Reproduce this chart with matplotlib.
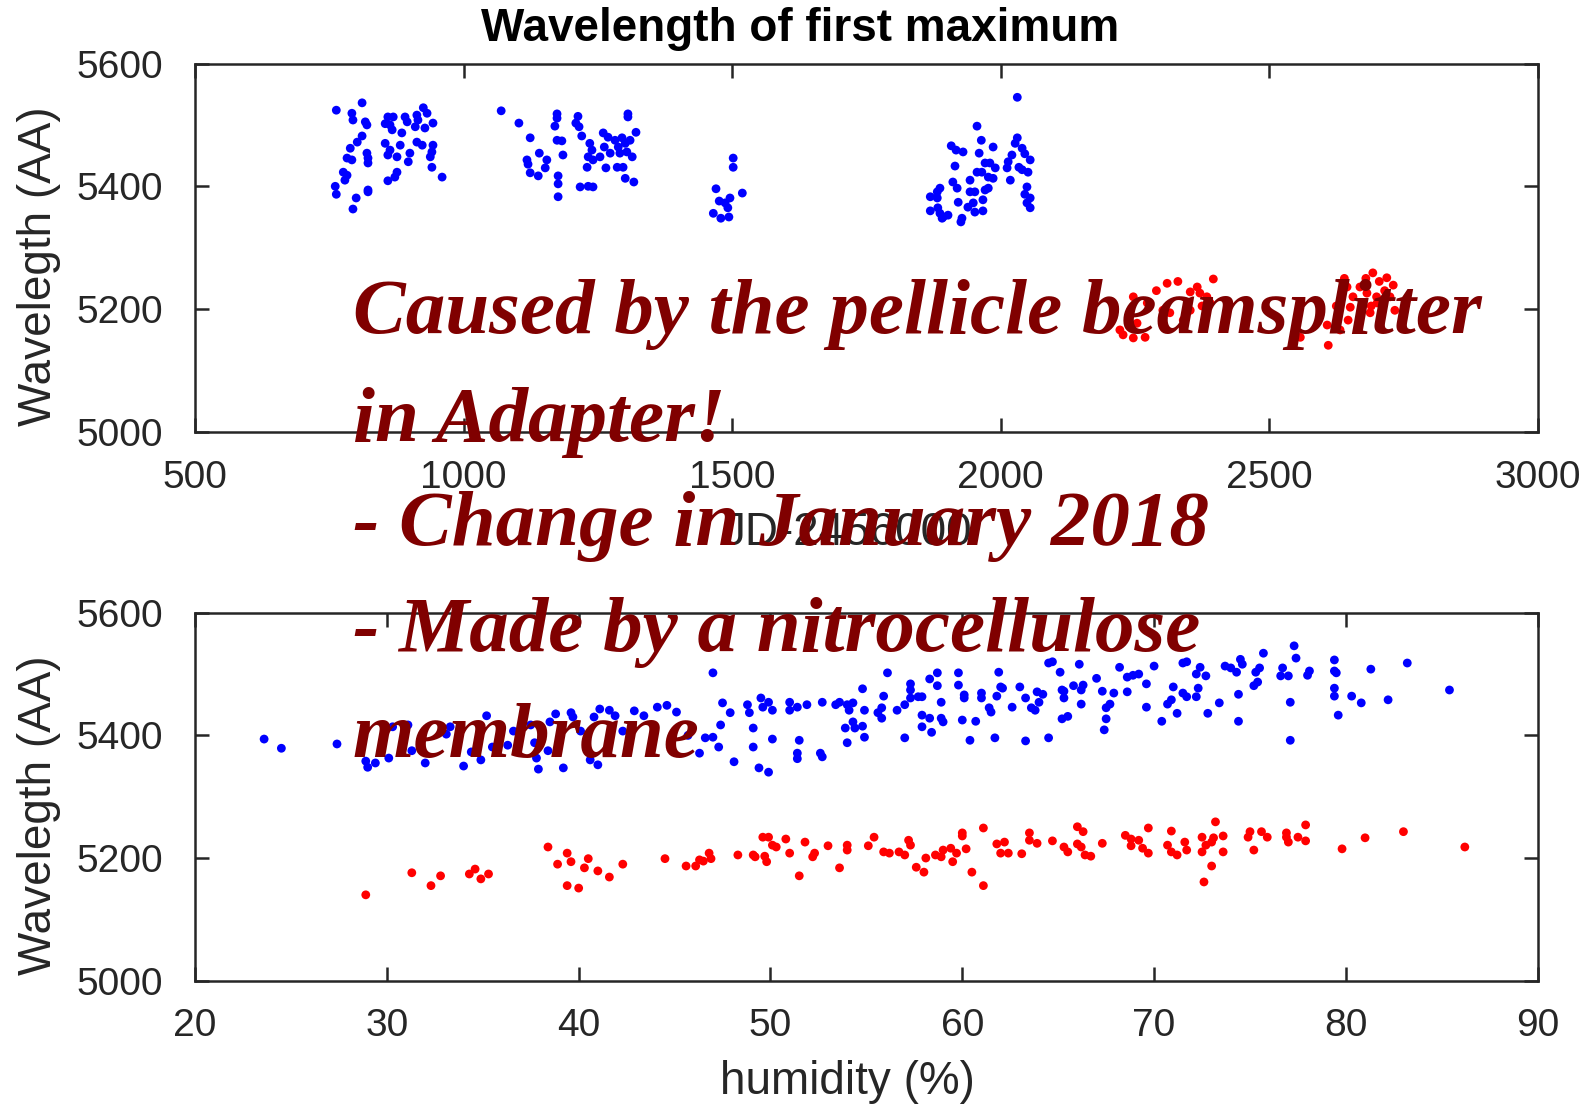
import numpy as np
import matplotlib.pyplot as plt

plt.rcParams['font.family'] = ['Liberation Sans', 'DejaVu Sans']

# (JD-2456000, wavelength) of the first maximum, before the change
jd_blue = np.array([
    (763, 5524), (811, 5536), (792, 5519), (794, 5508), (817, 5505), (820, 5500),
    (811, 5482), (802, 5472), (789, 5462), (783, 5446), (792, 5443), (820, 5454),
    (822, 5446), (822, 5438), (776, 5423), (783, 5418), (779, 5410), (761, 5400),
    (763, 5387), (800, 5381), (794, 5363), (822, 5394), (822, 5391), (859, 5513),
    (869, 5513), (854, 5502), (863, 5500), (867, 5492), (891, 5513), (895, 5505),
    (913, 5516), (925, 5528), (932, 5519), (915, 5508), (910, 5497), (928, 5495),
    (943, 5503), (885, 5487), (854, 5470), (863, 5459), (882, 5467), (876, 5448),
    (859, 5451), (900, 5454), (897, 5440), (913, 5472), (923, 5467), (943, 5467),
    (941, 5456), (938, 5448), (941, 5431), (876, 5423), (872, 5415), (859, 5409),
    (960, 5415),
    (1070, 5523), (1103, 5503), (1124, 5479), (1174, 5518), (1174, 5511), (1170, 5498),
    (1213, 5514), (1209, 5503), (1215, 5497), (1220, 5482), (1306, 5518), (1306, 5513),
    (1321, 5488), (1174, 5475), (1183, 5474), (1185, 5451), (1141, 5454), (1155, 5443),
    (1118, 5443), (1120, 5436), (1152, 5430), (1124, 5422), (1139, 5417), (1176, 5417),
    (1176, 5404), (1176, 5383), (1217, 5399), (1232, 5400), (1241, 5399), (1235, 5470),
    (1239, 5459), (1232, 5448), (1230, 5431), (1241, 5443), (1254, 5448), (1260, 5487),
    (1269, 5480), (1262, 5464), (1273, 5454), (1282, 5475), (1288, 5464), (1295, 5479),
    (1301, 5470), (1310, 5475), (1291, 5454), (1304, 5456), (1314, 5448), (1286, 5431),
    (1297, 5431), (1265, 5430), (1301, 5413), (1317, 5407),
    (1502, 5446), (1502, 5431), (1470, 5396), (1519, 5389), (1476, 5376), (1487, 5373),
    (1496, 5381), (1492, 5365), (1465, 5356), (1479, 5348), (1494, 5350),
    (2031, 5545), (1956, 5498), (1964, 5475), (1908, 5466), (1917, 5459), (1930, 5456),
    (1960, 5454), (1986, 5464), (2031, 5479), (2027, 5470), (2040, 5462), (2045, 5453),
    (2055, 5443), (2021, 5451), (2014, 5440), (2012, 5430), (2034, 5431), (2040, 5427),
    (2051, 5423), (1915, 5433), (1971, 5438), (1980, 5438), (1990, 5430), (1956, 5423),
    (1965, 5423), (1977, 5415), (1986, 5413), (2018, 5410), (1943, 5410), (1911, 5407),
    (1919, 5397), (1887, 5397), (1882, 5391), (1869, 5383), (1882, 5381), (1943, 5391),
    (1952, 5391), (1971, 5394), (1977, 5397), (2049, 5399), (2045, 5387), (2055, 5381),
    (2049, 5373), (2055, 5365), (1967, 5378), (1921, 5374), (1949, 5373), (1939, 5366),
    (1869, 5360), (1883, 5365), (1887, 5356), (1893, 5350), (1902, 5353), (1891, 5348),
    (1952, 5358), (1967, 5360), (1928, 5348), (1926, 5342),
])

# after the change
jd_red = np.array([
    (2310, 5242), (2396, 5249), (2366, 5236), (2353, 5228), (2371, 5226), (2384, 5220),
    (2390, 5210), (2353, 5198), (2340, 5182), (2315, 5194), (2302, 5185), (2273, 5210),
    (2247, 5220), (2254, 5177), (2228, 5158), (2247, 5153), (2269, 5154), (2222, 5166),
    (2302, 5198), (2290, 5230), (2330, 5245), (2375, 5205),
    (2558, 5154), (2608, 5174), (2610, 5141), (2632, 5166), (2647, 5182), (2645, 5236),
    (2656, 5220), (2651, 5203), (2669, 5236), (2682, 5226), (2693, 5259), (2719, 5251),
    (2731, 5239), (2701, 5210), (2688, 5194), (2725, 5220), (2734, 5198), (2680, 5250),
    (2690, 5205), (2715, 5230), (2705, 5245), (2640, 5250), (2625, 5205), (2700, 5220),
])

# (humidity %, wavelength)
hum_blue = np.array([
    (23.6, 5394), (24.5, 5379), (27.4, 5386), (28.9, 5358), (29.0, 5348), (29.4, 5355),
    (30.1, 5363), (30.3, 5414), (31.1, 5417), (31.3, 5375), (32.0, 5355), (33.1, 5402),
    (33.3, 5414), (34.0, 5350), (34.4, 5373), (34.9, 5360), (35.2, 5432), (35.5, 5381),
    (36.3, 5384), (36.6, 5407), (37.5, 5417), (37.7, 5388), (37.9, 5345), (37.8, 5363),
    (38.4, 5375), (38.5, 5422), (38.8, 5435), (39.2, 5347), (39.6, 5437), (39.7, 5430),
    (40.1, 5407), (40.6, 5360), (41.0, 5352), (40.8, 5430), (41.1, 5443), (41.6, 5441),
    (41.9, 5432), (42.3, 5407), (42.9, 5440), (43.4, 5432), (43.8, 5379), (44.1, 5446),
    (44.6, 5449), (45.1, 5438), (45.7, 5400),
    (47.0, 5502), (47.5, 5453), (47.9, 5437), (47.4, 5417), (46.6, 5396), (47.0, 5397),
    (46.3, 5371), (47.3, 5381), (48.1, 5357), (48.8, 5450), (48.9, 5437), (49.5, 5461),
    (49.6, 5446), (49.9, 5454), (50.1, 5441), (49.1, 5412), (49.1, 5381), (50.1, 5394),
    (49.4, 5347), (49.9, 5340), (51.0, 5454), (51.0, 5441), (51.4, 5446), (51.9, 5450),
    (51.5, 5392), (51.4, 5371), (51.4, 5362), (52.6, 5371), (52.7, 5365), (52.7, 5454),
    (53.4, 5450), (53.6, 5454), (54.0, 5450), (54.3, 5453), (54.1, 5441), (54.3, 5422),
    (53.9, 5412), (54.4, 5412), (54.8, 5415), (54.0, 5388), (54.9, 5397), (54.9, 5441),
    (54.8, 5476), (55.6, 5437), (55.8, 5445), (55.8, 5428), (55.9, 5464), (56.1, 5502),
    (56.6, 5441), (57.0, 5450), (57.0, 5396), (57.3, 5484), (57.3, 5474), (57.3, 5461),
    (57.7, 5463), (57.9, 5463), (57.9, 5433), (57.9, 5414), (58.3, 5428), (58.4, 5405),
    (58.3, 5492), (58.7, 5481), (58.7, 5502), (58.9, 5454), (58.9, 5428), (59.0, 5422),
    (59.8, 5502), (59.8, 5482), (60.0, 5425), (60.1, 5466), (60.1, 5461), (60.4, 5392),
    (60.7, 5423), (61.0, 5469), (61.0, 5461), (61.4, 5445), (61.5, 5438), (61.7, 5396),
    (61.8, 5464), (61.9, 5503), (62.0, 5479), (62.1, 5477), (62.6, 5446), (63.0, 5479),
    (63.3, 5461), (63.3, 5391), (63.6, 5445), (63.8, 5441), (63.9, 5471), (64.2, 5467),
    (64.0, 5454), (64.5, 5396), (64.5, 5518), (64.7, 5520), (65.1, 5503), (65.2, 5474),
    (65.3, 5472), (65.3, 5461), (65.2, 5427), (65.5, 5431), (65.8, 5481), (66.1, 5516),
    (66.2, 5474), (66.3, 5482), (66.2, 5451), (67.0, 5493), (67.3, 5472), (67.5, 5445),
    (67.7, 5451), (67.5, 5427), (67.4, 5409), (67.9, 5469), (68.2, 5511), (68.6, 5495),
    (68.9, 5498), (69.2, 5500), (68.6, 5471), (69.6, 5446), (69.6, 5484),
    (70.0, 5513), (70.4, 5423), (71.0, 5479), (70.9, 5458), (70.7, 5451), (71.2, 5436),
    (71.5, 5518), (71.7, 5520), (71.5, 5469), (71.7, 5463), (72.2, 5463), (72.3, 5477),
    (72.2, 5500), (72.4, 5511), (72.7, 5497), (72.8, 5436), (73.4, 5453), (73.7, 5513),
    (74.0, 5510), (74.3, 5503), (74.5, 5524), (74.6, 5516), (74.4, 5467), (74.4, 5423),
    (75.3, 5503), (75.5, 5510), (75.7, 5534), (75.2, 5481), (75.4, 5487), (76.7, 5510),
    (76.6, 5497), (77.0, 5497), (77.3, 5546), (77.4, 5526), (77.1, 5454), (77.1, 5392),
    (78.0, 5498), (78.1, 5505), (79.4, 5523), (79.4, 5505), (79.5, 5502), (79.4, 5477),
    (79.4, 5464), (79.6, 5433), (80.3, 5464), (80.8, 5453), (81.3, 5508), (82.2, 5458),
    (83.2, 5518), (85.4, 5474),
])

hum_red = np.array([
    (28.9, 5140), (31.3, 5176), (32.3, 5155), (32.8, 5171), (34.3, 5174), (34.6, 5182),
    (34.9, 5166), (35.3, 5174), (38.4, 5218), (39.4, 5208), (38.9, 5190), (39.6, 5194),
    (40.5, 5199), (40.3, 5184), (41.0, 5179), (39.4, 5155), (40.0, 5151), (41.6, 5169),
    (42.3, 5190), (44.5, 5199), (45.6, 5187), (46.1, 5187), (46.3, 5197), (46.5, 5195),
    (46.8, 5208), (46.9, 5199), (48.3, 5205), (49.1, 5205), (49.2, 5202), (49.6, 5234),
    (49.9, 5234), (50.1, 5221), (50.3, 5218), (49.7, 5203), (49.8, 5194), (50.8, 5231),
    (51.0, 5208), (51.5, 5171), (51.8, 5226), (52.3, 5208), (52.2, 5202), (53.0, 5220),
    (53.6, 5184), (54.0, 5221), (54.0, 5213), (55.1, 5220), (55.4, 5234), (55.9, 5210),
    (56.2, 5208), (56.7, 5210),
    (57.0, 5205), (57.2, 5229), (57.3, 5221), (57.6, 5185), (58.0, 5177), (58.1, 5200),
    (58.6, 5205), (58.9, 5202), (59.0, 5213), (59.4, 5216), (59.7, 5208), (59.5, 5194),
    (60.0, 5241), (60.0, 5236), (60.2, 5215), (60.5, 5177), (61.1, 5249), (61.1, 5155),
    (61.8, 5223), (62.0, 5208), (62.2, 5226), (62.4, 5208), (63.1, 5207), (63.5, 5241),
    (63.5, 5229), (63.9, 5224), (64.7, 5228), (65.3, 5218), (65.5, 5210), (66.0, 5251),
    (66.3, 5243), (66.0, 5223), (66.2, 5218), (66.4, 5205), (66.7, 5203), (67.3, 5224),
    (68.5, 5237), (68.8, 5231), (68.8, 5220), (69.2, 5229), (69.4, 5216), (69.7, 5208),
    (69.7, 5249), (70.7, 5221), (70.9, 5210), (71.2, 5205), (70.9, 5244), (71.6, 5226),
    (71.7, 5213), (72.5, 5234), (72.5, 5210), (72.7, 5221), (73.0, 5226), (73.1, 5233),
    (73.6, 5236), (73.6, 5210), (73.2, 5259), (73.0, 5187), (72.6, 5161), (74.9, 5234),
    (75.0, 5243), (75.2, 5213), (75.6, 5243), (75.9, 5234), (76.9, 5241), (76.9, 5234),
    (77.0, 5226), (77.5, 5234), (77.9, 5228), (77.9, 5254), (79.8, 5215), (81.0, 5233),
    (83.0, 5243), (86.2, 5218),
])

jd_ticks = [500, 1000, 1500, 2000, 2500, 3000]
hum_ticks = [20, 30, 40, 50, 60, 70, 80, 90]
wl_ticks = [5000, 5200, 5400, 5600]

note_lines = [
    'Caused by the pellicle beamsplitter',
    'in Adapter!',
    '- Change in January 2018',
    '- Made by a nitrocellulose',
    'membrane',
]

ink = '#262626'

fig = plt.figure(figsize=(15.82, 11.07), dpi=100)
ax1 = fig.add_axes([0.1233, 0.6099, 0.8487, 0.3327])
ax2 = fig.add_axes([0.1233, 0.1141, 0.8487, 0.3324])

ax1.scatter(jd_blue[:, 0], jd_blue[:, 1], s=40, c='blue', edgecolors='none', zorder=3)
ax1.scatter(jd_red[:, 0], jd_red[:, 1], s=40, c='red', edgecolors='none', zorder=3)
ax2.scatter(hum_blue[:, 0], hum_blue[:, 1], s=40, c='blue', edgecolors='none', zorder=3)
ax2.scatter(hum_red[:, 0], hum_red[:, 1], s=40, c='red', edgecolors='none', zorder=3)

ax1.set_xlim(500, 3000)
ax1.set_xticks(jd_ticks)
ax2.set_xlim(20, 90)
ax2.set_xticks(hum_ticks)

for ax in (ax1, ax2):
    ax.set_ylim(5000, 5600)
    ax.set_yticks(wl_ticks)
    ax.tick_params(direction='in', length=10, width=1.8, top=True, right=True,
                   labelsize=28, colors=ink)
    ax.tick_params(axis='x', pad=20)
    ax.tick_params(axis='y', pad=23)
    for sp in ax.spines.values():
        sp.set_linewidth(1.8)
        sp.set_color(ink)
    ax.set_ylabel('Wavelegth (AA)', fontsize=33, color=ink)
    ax.yaxis.set_label_coords(-0.1, 0.45)

ax1.set_xlabel('JD-2456000', fontsize=33, color=ink)
ax1.xaxis.set_label_coords(0.486, -0.215)
ax2.set_xlabel('humidity (%)', fontsize=33, color=ink)
ax2.xaxis.set_label_coords(0.486, -0.215)

fig.text(0.506, 0.963, 'Wavelength of first maximum', ha='center', va='baseline',
         fontsize=33, fontweight='bold', color='black')

# handwritten-style note over both panels
baselines = [0.6992, 0.6016, 0.5077, 0.4119, 0.3162]
notes = [fig.text(0.2231, y, line, ha='left', va='baseline', color='#800000',
                  family=['Liberation Serif', 'DejaVu Serif'], fontweight='bold',
                  style='italic', fontsize=60)
         for line, y in zip(note_lines, baselines)]

# size the note so its first line spans the intended width
fig.canvas.draw()
width = notes[0].get_window_extent().width
for t in notes:
    t.set_fontsize(60 * 1128 / width)

fig.savefig('out.png', dpi=100)
